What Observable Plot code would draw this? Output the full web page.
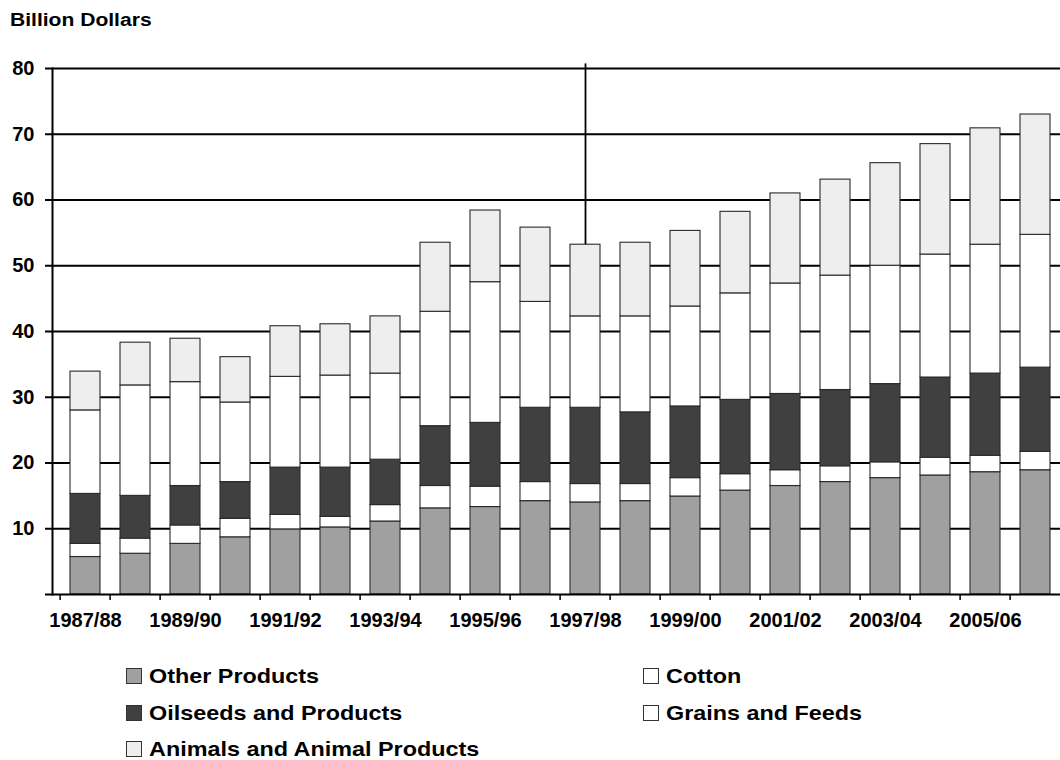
<!DOCTYPE html>
<html>
<head>
<meta charset="utf-8">
<script src="https://cdn.jsdelivr.net/npm/d3@7"></script>
<script src="https://cdn.jsdelivr.net/npm/@observablehq/plot@0.6"></script>
<style>
  html, body { margin: 0; padding: 0; background: #fff; }
  body { position: relative; width: 1060px; height: 760px; overflow: hidden; font-family: "Liberation Sans", Arial, sans-serif; }
  #title { position: absolute; left: 10px; top: 11px; font-size: 18px; line-height: 18px; font-weight: bold; color: #000; transform: scaleX(1.17); transform-origin: left top; white-space: nowrap; }
  #chart { position: absolute; left: 0; top: 40px; }
  .lg { position: absolute; display: flex; align-items: center; white-space: nowrap; height: 16px; }
  .lg .sw { width: 14px; height: 14px; border: 1px solid #333; box-sizing: content-box; margin-right: 7px; flex: none; }
  .lg .tx { font-size: 20.5px; line-height: 16px; font-weight: bold; color: #000; transform: scaleX(1.14); transform-origin: left center; }
</style>
</head>
<body>
<div id="title">Billion Dollars</div>
<div id="chart"></div>
<div id="legend"></div>
<script>
// ---- data (billion dollars) ----
const years = ["1987/88","1988/89","1989/90","1990/91","1991/92","1992/93","1993/94","1994/95","1995/96","1996/97",
               "1997/98","1998/99","1999/00","2000/01","2001/02","2002/03","2003/04","2004/05","2005/06","2006/07"];
const otherProducts = [5.7, 6.2, 7.7, 8.7, 9.9, 10.2, 11.1, 13.1, 13.3, 14.2, 14.0, 14.2, 14.9, 15.8, 16.5, 17.1, 17.7, 18.1, 18.6, 18.9];
const cotton        = [2.0, 2.3, 2.8, 2.8, 2.2, 1.6, 2.5, 3.4, 3.1, 2.9, 2.8, 2.6, 2.8, 2.5, 2.4, 2.4, 2.4, 2.7, 2.5, 2.8];
const oilseeds      = [7.6, 6.5, 6.0, 5.6, 7.2, 7.5, 6.9, 9.1, 9.7, 11.3, 11.6, 10.9, 10.9, 11.3, 11.6, 11.6, 11.9, 12.2, 12.5, 12.8];
const grainsFeeds   = [12.7, 16.8, 15.8, 12.1, 13.8, 14.0, 13.1, 17.4, 21.4, 16.1, 13.9, 14.6, 15.2, 16.2, 16.8, 17.4, 18.0, 18.7, 19.6, 20.2];
const animals       = [5.9, 6.5, 6.6, 6.9, 7.7, 7.8, 8.7, 10.5, 10.9, 11.3, 10.9, 11.2, 11.5, 12.4, 13.7, 14.6, 15.6, 16.8, 17.7, 18.3];
const seriesNames  = ["Other Products", "Cotton", "Oilseeds and Products", "Grains and Feeds", "Animals and Animal Products"];
const seriesColors = ["#a0a0a0", "#ffffff", "#404040", "#ffffff", "#eeeeee"];
const yTicks = [10, 20, 30, 40, 50, 60, 70, 80];
const xLabelYears = years.filter((d, i) => i % 2 === 0);
const dividerYear = "1997/98";
const dividerTop = 80.7;

// ---- long table ----
const seriesValues = [otherProducts, cotton, oilseeds, grainsFeeds, animals];
const rows = [];
seriesNames.forEach((s, k) => years.forEach((y, i) => rows.push({year: y, series: s, value: seriesValues[k][i]})));
const totals = years.map((y, i) => seriesValues.reduce((a, arr) => a + arr[i], 0));
const divider = [{year: dividerYear, y1: totals[years.indexOf(dividerYear)], y2: dividerTop}];

const plot = Plot.plot({
  width: 1060,
  height: 610,
  marginTop: 28,
  marginBottom: 56,
  marginLeft: 52,
  marginRight: 0,
  style: {fontFamily: "'Liberation Sans', Arial, sans-serif", fontSize: "20px", fontWeight: "bold", color: "#000", background: "#fff", overflow: "hidden"},
  x: {domain: years, range: [52, 1068], paddingInner: 0.4, paddingOuter: 0.2, label: null},
  y: {domain: [0, 80], label: null},
  color: {domain: seriesNames, range: seriesColors},
  marks: [
    Plot.ruleY(yTicks, {stroke: "#000", strokeWidth: 2, insetLeft: -7}),
    Plot.barY(rows, {x: "year", y: "value", fill: "series", stroke: "#2a2a2a", strokeWidth: 1.1}),
    Plot.ruleX(divider, {x: "year", y1: "y1", y2: "y2", stroke: "#000", strokeWidth: 1.8}),
    Plot.ruleY([0], {stroke: "#000", strokeWidth: 2, insetLeft: -7}),
    Plot.frame({anchor: "left", stroke: "#000", strokeWidth: 2}),
    Plot.axisY({ticks: yTicks, tickSize: 0, tickPadding: 18, tickFormat: d => String(d)}),
    Plot.axisX({ticks: years, tickSize: 6, text: null, dx: -25.4, stroke: "#000", strokeWidth: 1.5}),
    Plot.axisX({ticks: xLabelYears, tickSize: 0, tickPadding: 18})
  ]
});
document.getElementById("chart").appendChild(plot);

// ---- legend ----
const legendPos = [
  {name: "Other Products", left: 126, top: 668},
  {name: "Cotton", left: 643, top: 668},
  {name: "Oilseeds and Products", left: 126, top: 705},
  {name: "Grains and Feeds", left: 643, top: 705},
  {name: "Animals and Animal Products", left: 126, top: 741}
];
const lg = document.getElementById("legend");
legendPos.forEach(p => {
  const el = document.createElement("div");
  el.className = "lg";
  el.style.left = p.left + "px";
  el.style.top = p.top + "px";
  const sw = document.createElement("div");
  sw.className = "sw";
  sw.style.background = seriesColors[seriesNames.indexOf(p.name)];
  const tx = document.createElement("div");
  tx.className = "tx";
  tx.textContent = p.name;
  el.appendChild(sw); el.appendChild(tx);
  lg.appendChild(el);
});
</script>
</body>
</html>
